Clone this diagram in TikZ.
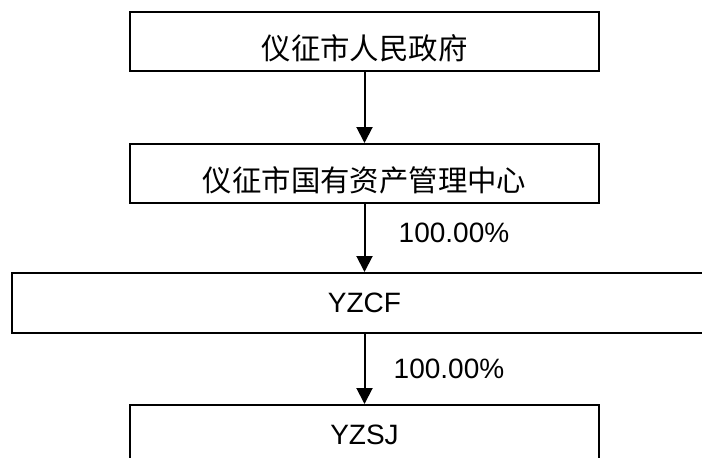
\documentclass[tikz,border=0pt]{standalone}
\usepackage{fontspec}
\setmainfont{Liberation Sans}
\newfontfamily\cjk[Scale=1.05]{Noto Sans CJK SC}
\usetikzlibrary{positioning}
\usetikzlibrary{arrows.meta}

\begin{document}
\begin{tikzpicture}[x=1pt, y=1pt,
    box/.style={draw=black, line width=2pt, minimum width=469pt, minimum height=59pt, inner sep=0pt, font=\fontsize{28}{34}\selectfont},
    cjkbox/.style={box, font=\fontsize{28}{34}\selectfont\cjk, text height=35pt, text depth=0pt},
    link/.style={-{Triangle[length=16pt, width=16pt]}, line width=2pt},
    pct/.style={inner sep=0pt, font=\fontsize{28}{34}\selectfont}]
    \useasboundingbox (0,0) rectangle (702,-458);
    \clip (0,0) rectangle (702,-458);
    \node[cjkbox] (gov) at (364.5,-41.5) {仪征市人民政府};
    \node[cjkbox] (center) at (364.5,-173.5) {仪征市国有资产管理中心};
    \node[box, minimum width=705pt, minimum height=60pt] (yzcf) at (364.5,-303) {YZCF};
    \node[box] (yzsj) at (364.5,-434.5) {YZSJ};
    \draw[link] (gov) -- (center);
    \draw[link] (center) -- (yzcf);
    \draw[link] (yzcf) -- (yzsj);
    \node[pct] (pctA) at (454,-233) {100.00\%};
    \node[pct] (pctB) at (449,-369) {100.00\%};
\end{tikzpicture}
\end{document}
